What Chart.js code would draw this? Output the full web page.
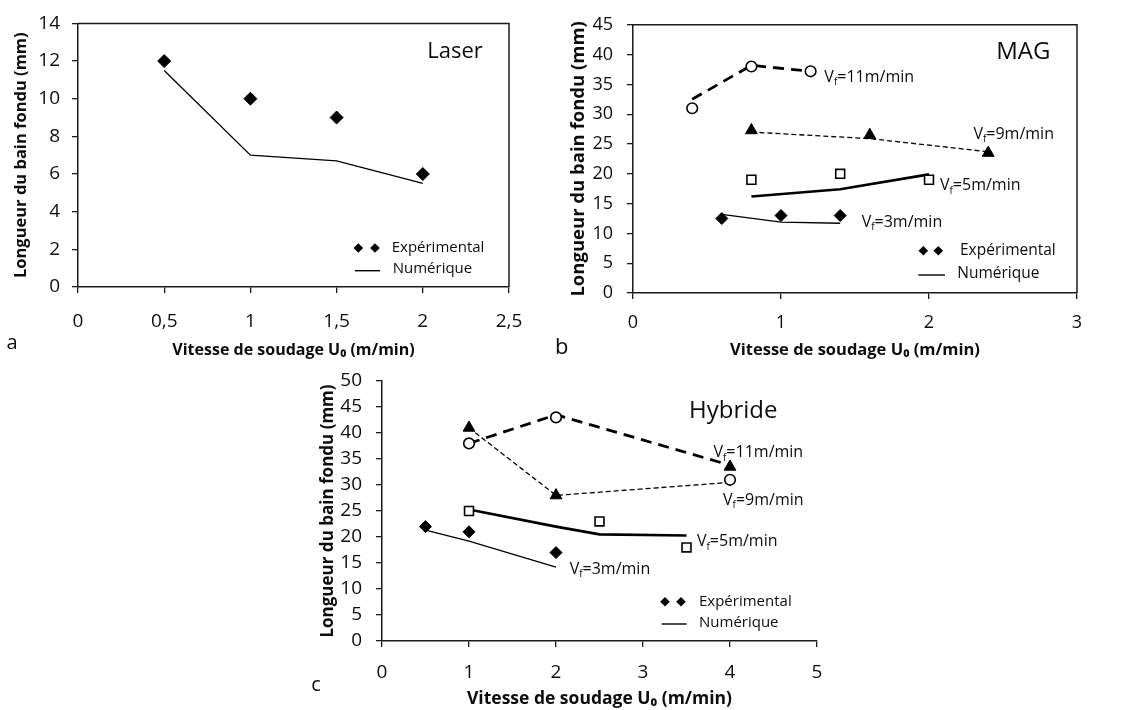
<!DOCTYPE html>
<html><head><meta charset="utf-8">
<script src="https://cdn.jsdelivr.net/npm/chart.js@4.4.1/dist/chart.umd.min.js"></script>
<style>
html,body{margin:0;padding:0;background:#fff;}
body{width:1145px;height:710px;position:relative;overflow:hidden;}
canvas{position:absolute;}
#ca{left:0;top:0;}
#cb{left:540px;top:0;}
#cc{left:300px;top:355px;}
</style></head><body>
<canvas id="ca" width="560" height="370"></canvas>
<canvas id="cb" width="605" height="370"></canvas>
<canvas id="cc" width="545" height="355"></canvas>
<script>
// ---------- DATA ----------
// Panel a : Laser
const laserSpeed = [0.5, 1, 1.5, 2];
const laserExp   = [12, 10, 9, 6];
const laserNum   = [11.5, 7.0, 6.7, 5.5];
const laserXTicks = ['0', '0,5', '1', '1,5', '2', '2,5'];
const laserYTicks = ['0', '2', '4', '6', '8', '10', '12', '14'];

// Panel b : MAG
const magSpeed11 = [0.4, 0.8, 1.2];
const magExp11   = [31, 38, 37.2];
const magNum11   = [32.5, 38.2, 37.2];
const magSpeed9  = [0.8, 1.6, 2.4];
const magExp9    = [27.3, 26.5, 23.5];
const magNum9    = [27.0, 25.9, 23.7];
const magSpeed5  = [0.8, 1.4, 2.0];
const magExp5    = [19, 20, 19];
const magNum5    = [16.2, 17.4, 19.9];
const magSpeed3  = [0.6, 1.0, 1.4];
const magExp3    = [12.5, 13, 13];
const magNum3    = [13.2, 11.9, 11.7];
const magXTicks = ['0', '1', '2', '3'];
const magYTicks = ['0', '5', '10', '15', '20', '25', '30', '35', '40', '45'];

// Panel c : Hybride
const hybSpeed11 = [1, 2, 4];
const hybExp11   = [38, 43, 31];
const hybNum11   = [38, 43.5, 33.8];
const hybSpeed9  = [1, 2, 4];
const hybExp9    = [41, 28, 33.5];
const hybNum9    = [41, 28, 30.5];
const hybSpeed5Exp = [1, 2.5, 3.5];
const hybExp5      = [25, 23, 18];
const hybSpeed5Num = [1, 2, 2.5, 3.5];
const hybNum5      = [25.3, 22, 20.5, 20.3];
const hybSpeed3  = [0.5, 1, 2];
const hybExp3    = [22, 21, 17];
const hybNum3    = [21.3, 19.2, 14.2];
const hybXTicks = ['0', '1', '2', '3', '4', '5'];
const hybYTicks = ['0', '5', '10', '15', '20', '25', '30', '35', '40', '45', '50'];

// Text
const yTitle = 'Longueur du bain fondu (mm)';
const xTitle = 'Vitesse de soudage U\u2080 (m/min)';
const legendExp = 'Expérimental';
const legendNum = 'Numérique';
const feedLabels = ['=11m/min', '=9m/min', '=5m/min', '=3m/min'];

// ---------- STYLE / HELPERS ----------
const FONT = "'Open Sans', 'Noto Sans', sans-serif";
const INK = '#0d0d0d';
const AXIS = '#1a1a1a';
Chart.defaults.font.family = FONT;
Chart.defaults.color = INK;

const pts = (xs, ys) => xs.map((x, i) => ({x: x, y: ys[i]}));

const markers = {
  diamond: {pointStyle: 'rectRot', pointRadius: 6, backgroundColor: '#000', borderColor: '#000', pointBorderWidth: 1},
  square:  {pointStyle: 'rect', pointRadius: 6.3, backgroundColor: '#fff', borderColor: '#000', pointBorderWidth: 1.6},
  triangle:{pointStyle: 'triangle', pointRadius: 6.8, backgroundColor: '#000', borderColor: '#000', pointBorderWidth: 1},
  circle:  {pointStyle: 'circle', pointRadius: 5.3, backgroundColor: '#fff', borderColor: '#000', pointBorderWidth: 1.6}
};
const lines = {
  thickDash: {borderWidth: 2.8, borderDash: [11, 7]},
  thinDash:  {borderWidth: 1.3, borderDash: [5, 3]},
  thick:     {borderWidth: 2.6, borderDash: []},
  thin:      {borderWidth: 1.3, borderDash: []}
};

function expSet(data, m, r) {
  const s = Object.assign({}, markers[m]);
  if (r) s.pointRadius = r;
  return Object.assign({type: 'scatter', data: data, showLine: false, order: 0,
    pointHoverRadius: s.pointRadius, pointBackgroundColor: s.backgroundColor,
    pointBorderColor: s.borderColor}, s);
}
function numSet(data, l) {
  return Object.assign({type: 'scatter', data: data, showLine: true, order: 1,
    borderColor: '#000', pointRadius: 0, pointHoverRadius: 0, fill: false, tension: 0}, lines[l]);
}

function drawVf(ctx, text, x, y, size) {
  ctx.textAlign = 'left'; ctx.textBaseline = 'middle'; ctx.fillStyle = INK;
  ctx.font = size + 'px ' + FONT;
  ctx.fillText('V', x, y);
  let w = ctx.measureText('V').width;
  ctx.font = Math.round(size * 0.62) + 'px ' + FONT;
  ctx.fillText('f', x + w, y + size * 0.32);
  w += ctx.measureText('f').width;
  ctx.font = size + 'px ' + FONT;
  ctx.fillText(text, x + w, y);
}

function decor(cfg) {
  return {
    id: 'decor',
    afterDraw(chart) {
      const ctx = chart.ctx, a = chart.chartArea;
      const xs = chart.scales.x, ys = chart.scales.y;
      ctx.save();
      if (cfg.frame) {
        ctx.strokeStyle = AXIS; ctx.lineWidth = 1.5; ctx.setLineDash([]);
        ctx.beginPath();
        ctx.moveTo(a.left, a.top); ctx.lineTo(a.right, a.top); ctx.lineTo(a.right, a.bottom);
        ctx.stroke();
      }
      ctx.fillStyle = INK; ctx.textAlign = 'center'; ctx.textBaseline = 'middle';
      ctx.font = cfg.name.size + 'px ' + FONT;
      ctx.fillText(cfg.name.text, cfg.name.x, cfg.name.y);
      ctx.font = cfg.letter.size + 'px ' + FONT;
      ctx.fillText(cfg.letter.text, cfg.letter.x, cfg.letter.y);
      const L = cfg.legend;
      ctx.fillStyle = '#000';
      L.diamonds.forEach(dx => {
        const r = L.r;
        ctx.beginPath();
        ctx.moveTo(dx, L.y1 - r); ctx.lineTo(dx + r, L.y1); ctx.lineTo(dx, L.y1 + r); ctx.lineTo(dx - r, L.y1);
        ctx.closePath(); ctx.fill();
      });
      ctx.strokeStyle = '#000'; ctx.lineWidth = 1.4;
      ctx.beginPath(); ctx.moveTo(L.lineX0, L.yLine); ctx.lineTo(L.lineX1, L.yLine); ctx.stroke();
      ctx.fillStyle = INK; ctx.textAlign = 'left'; ctx.textBaseline = 'middle';
      ctx.font = L.size + 'px ' + FONT;
      ctx.fillText(legendExp, L.textX1, L.y1);
      ctx.fillText(legendNum, L.textX2, L.y2);
      (cfg.notes || []).forEach(n => {
        drawVf(ctx, n.text, xs.getPixelForValue(n.x), ys.getPixelForValue(n.y), n.size);
      });
      ctx.restore();
    }
  };
}

function axes(o) {
  return {
    x: {
      type: 'linear', min: o.xmin, max: o.xmax,
      afterFit: s => { s.height = o.xh; },
      grid: {display: true, drawOnChartArea: false, drawTicks: true, tickLength: 6, color: AXIS, lineWidth: 1.3},
      border: {display: true, color: AXIS, width: 1.5},
      ticks: {stepSize: o.xstep, autoSkip: false, maxRotation: 0, padding: o.xpad,
        font: {size: o.xfs}, color: INK, callback: (v, i) => o.xlabels[i]},
      title: {display: true, text: xTitle, color: INK,
        font: {size: o.xtfs, weight: 'bold'}, padding: {top: 0, bottom: o.xtpb}}
    },
    y: {
      type: 'linear', min: o.ymin, max: o.ymax,
      afterFit: s => { s.width = o.yw; },
      grid: {display: true, drawOnChartArea: false, drawTicks: true, tickLength: 6, color: AXIS, lineWidth: 1.3},
      border: {display: true, color: AXIS, width: 1.5},
      ticks: {stepSize: o.ystep, autoSkip: false, padding: o.ypad,
        font: {size: o.yfs}, color: INK, callback: (v, i) => o.ylabels[i]},
      title: {display: true, text: yTitle, color: INK,
        font: {size: o.ytfs, weight: 'bold'}, padding: {top: o.ytpt, bottom: 0}}
    }
  };
}

function baseOptions(padding, scales) {
  return {
    responsive: false, animation: false, devicePixelRatio: 1,
    layout: {padding: padding},
    plugins: {legend: {display: false}, tooltip: {enabled: false}},
    events: [],
    scales: scales
  };
}

// ---------- PANEL a : Laser ----------
new Chart(document.getElementById('ca'), {
  type: 'scatter',
  data: {datasets: [
    numSet(pts(laserSpeed, laserNum), 'thin'),
    expSet(pts(laserSpeed, laserExp), 'diamond', 6.5)
  ]},
  options: baseOptions({left: 0, top: 18, right: 51, bottom: 0}, axes({
    xmin: 0, xmax: 2.5, xstep: 0.5, xlabels: laserXTicks, xh: 83, xpad: 17.6, xfs: 19, xtfs: 16, xtpb: 10.4,
    ymin: 0, ymax: 14, ystep: 2, ylabels: laserYTicks, yw: 78, ypad: 12, yfs: 19, ytfs: 16.5, ytpt: 11.8
  })),
  plugins: [decor({
    frame: true,
    name: {text: 'Laser', x: 455, y: 52, size: 22},
    letter: {text: 'a', x: 12, y: 343, size: 20},
    legend: {diamonds: [358.3, 375], r: 4.8, y1: 248, y2: 268.5, lineX0: 355, lineX1: 380, yLine: 270.7,
      textX1: 391.7, textX2: 392.7, size: 15}
  })]
});

// ---------- PANEL b : MAG ----------
new Chart(document.getElementById('cb'), {
  type: 'scatter',
  data: {datasets: [
    numSet(pts(magSpeed11, magNum11), 'thickDash'),
    numSet(pts(magSpeed9, magNum9), 'thinDash'),
    numSet(pts(magSpeed5, magNum5), 'thick'),
    numSet(pts(magSpeed3, magNum3), 'thin'),
    expSet(pts(magSpeed11, magExp11), 'circle'),
    expSet(pts(magSpeed9, magExp9), 'triangle'),
    expSet(pts(magSpeed5, magExp5), 'square'),
    expSet(pts(magSpeed3, magExp3), 'diamond')
  ]},
  options: baseOptions({left: 0, top: 19, right: 68, bottom: 0}, axes({
    xmin: 0, xmax: 3, xstep: 1, xlabels: magXTicks, xh: 77, xpad: 13.2, xfs: 18, xtfs: 16.5, xtpb: 10.1,
    ymin: 0, ymax: 45, ystep: 5, ylabels: magYTicks, yw: 93, ypad: 14, yfs: 18, ytfs: 18.5, ytpt: 27.2
  })),
  plugins: [decor({
    frame: true,
    name: {text: 'MAG', x: 1023.3 - 540, y: 52, size: 24},
    letter: {text: 'b', x: 21.7, y: 348, size: 22},
    legend: {diamonds: [923.3 - 540, 938.3 - 540], r: 4.8, y1: 250.7, y2: 274, lineX0: 918.3 - 540, lineX1: 945 - 540, yLine: 275,
      textX1: 960 - 540, textX2: 957.3 - 540, size: 15.5},
    notes: [
      {text: feedLabels[0], x: 1.293, y: 36.2, size: 16},
      {text: feedLabels[1], x: 2.30, y: 26.65, size: 16},
      {text: feedLabels[2], x: 2.074, y: 18.0, size: 16},
      {text: feedLabels[3], x: 1.545, y: 11.9, size: 16}
    ]
  })]
});

// ---------- PANEL c : Hybride ----------
new Chart(document.getElementById('cc'), {
  type: 'scatter',
  data: {datasets: [
    numSet(pts(hybSpeed11, hybNum11), 'thickDash'),
    numSet(pts(hybSpeed9, hybNum9), 'thinDash'),
    numSet(pts(hybSpeed5Num, hybNum5), 'thick'),
    numSet(pts(hybSpeed3, hybNum3), 'thin'),
    expSet(pts(hybSpeed11, hybExp11), 'circle'),
    expSet(pts(hybSpeed9, hybExp9), 'triangle'),
    expSet(pts(hybSpeed5Exp, hybExp5), 'square'),
    expSet(pts(hybSpeed3, hybExp3), 'diamond')
  ]},
  options: baseOptions({left: 0, top: 26, right: 28, bottom: 0}, axes({
    xmin: 0, xmax: 5, xstep: 1, xlabels: hybXTicks, xh: 69, xpad: 14.6, xfs: 19, xtfs: 17.5, xtpb: 0,
    ymin: 0, ymax: 50, ystep: 5, ylabels: hybYTicks, yw: 82, ypad: 14, yfs: 19, ytfs: 17, ytpt: 18.1
  })),
  plugins: [decor({
    frame: false,
    name: {text: 'Hybride', x: 733.3 - 300, y: 410.7 - 355, size: 24},
    letter: {text: 'c', x: 16, y: 330, size: 20},
    legend: {diamonds: [665 - 300, 681 - 300], r: 4.8, y1: 601.7 - 355, y2: 622.7 - 355, lineX0: 661.7 - 300, lineX1: 686.7 - 300, yLine: 624 - 355,
      textX1: 699 - 300, textX2: 699 - 300, size: 15},
    notes: [
      {text: feedLabels[0], x: 3.81, y: 36.2, size: 16},
      {text: feedLabels[1], x: 3.92, y: 27.1, size: 16},
      {text: feedLabels[2], x: 3.62, y: 19.1, size: 16},
      {text: feedLabels[3], x: 2.157, y: 13.8, size: 16}
    ]
  })]
});
</script>
</body></html>
